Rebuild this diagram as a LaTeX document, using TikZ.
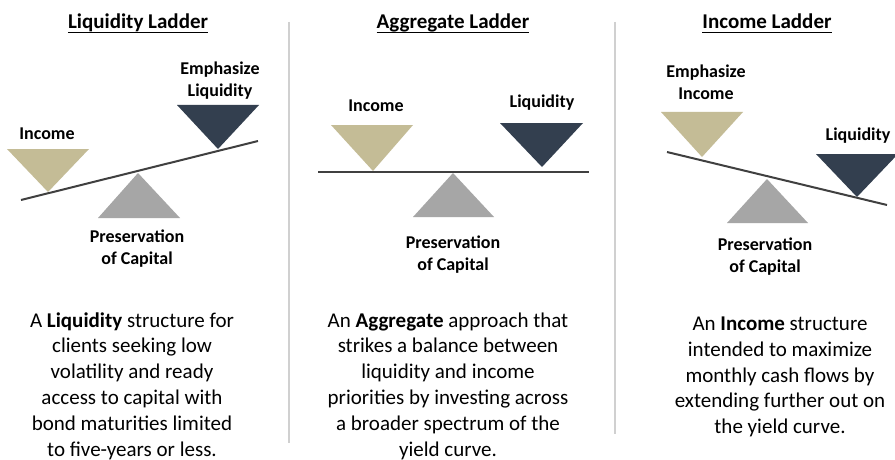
\documentclass[tikz,border=0pt]{standalone}
\usepackage{fontspec}
\setmainfont{Carlito}
\definecolor{tan}{HTML}{C4BC96}
\definecolor{navy}{HTML}{333F4F}
\definecolor{midgrey}{HTML}{A6A6A6}
\definecolor{beamgrey}{HTML}{404040}
\definecolor{divgrey}{HTML}{D0D0D0}
\begin{document}
\begin{tikzpicture}[x=1pt,y=-1pt,
  ttl/.style={inner sep=0pt,anchor=base,font=\fontsize{21}{25}\selectfont\bfseries},
  lbl/.style={inner sep=0pt,align=center,font=\fontsize{18}{22}\selectfont\bfseries},
  body/.style={inner sep=0pt,align=center,font=\fontsize{21}{25.8}\selectfont},
  beam/.style={draw=beamgrey,line width=2pt},
  divline/.style={draw=divgrey,line width=2pt},
  uline/.style={draw=black,line width=1.5pt}]
\useasboundingbox (0,0) rectangle (895,460);
\fill[white] (0,0) rectangle (895,460);
% dividers
\coordinate (d1t) at (289,22); \coordinate (d1b) at (289,443);
\coordinate (d2t) at (615,22); \coordinate (d2b) at (615,434);
\draw[divline] (d1t) -- (d1b);
\draw[divline] (d2t) -- (d2b);
% titles
\node[ttl] (t1) at (138,29) {Liquidity Ladder};
\node[ttl] (t2) at (453,29) {Aggregate Ladder};
\node[ttl] (t3) at (767,29) {Income Ladder};
\foreach \t in {t1,t2,t3}{\draw[uline] ([yshift=-3.5pt]\t.base west) -- ([yshift=-3.5pt]\t.base east);}
% panel 1
\fill[tan] (7,149) -- (89,149) -- (48,192) -- cycle;
\fill[navy] (177,105) -- (259,105) -- (218,149) -- cycle;
\fill[midgrey] (98,218) -- (180,218) -- (138,173) -- cycle;
\coordinate (b1a) at (21,200); \coordinate (b1b) at (258,141);
\draw[beam] (b1a) -- (b1b);
\node[lbl] (l1i) at (47,134) {Income};
\node[lbl] (l1l) at (220,81) {Emphasize\\Liquidity};
\node[lbl] (l1p) at (137,249) {Preservation\\of Capital};
% panel 2
\fill[tan] (331,125) -- (413,125) -- (373,171) -- cycle;
\fill[navy] (500,123) -- (583,123) -- (542,167) -- cycle;
\fill[midgrey] (413,217) -- (494,217) -- (453,173) -- cycle;
\coordinate (b2a) at (318,172); \coordinate (b2b) at (589,172);
\draw[beam] (b2a) -- (b2b);
\node[lbl] (l2i) at (376,106) {Income};
\node[lbl] (l2l) at (542,103) {Liquidity};
\node[lbl] (l2p) at (453,255) {Preservation\\of Capital};
% panel 3
\fill[tan] (661,112) -- (743,112) -- (702,157) -- cycle;
\fill[navy] (816,154) -- (898,154) -- (857,197) -- cycle;
\fill[midgrey] (727,223) -- (808,223) -- (767,179) -- cycle;
\coordinate (b3a) at (667,152); \coordinate (b3b) at (887,205);
\draw[beam] (b3a) -- (b3b);
\node[lbl] (l3i) at (706,82) {Emphasize\\Income};
\node[lbl] (l3l) at (858,136) {Liquidity};
\node[lbl] (l3p) at (765,257) {Preservation\\of Capital};
% body texts
\node[body] (x1) at (132,386) {A \textbf{Liquidity} structure for\\clients seeking low\\volatility and ready\\access to capital with\\bond maturities limited\\to five-years or less.};
\node[body] (x2) at (448,386) {An \textbf{Aggregate} approach that\\strikes a balance between\\liquidity and income\\priorities by investing across\\a broader spectrum of the\\yield curve.};
\node[body] (x3) at (780,377) {An \textbf{Income} structure\\intended to maximize\\monthly cash flows by\\extending further out on\\the yield curve.};
\end{tikzpicture}
\end{document}
